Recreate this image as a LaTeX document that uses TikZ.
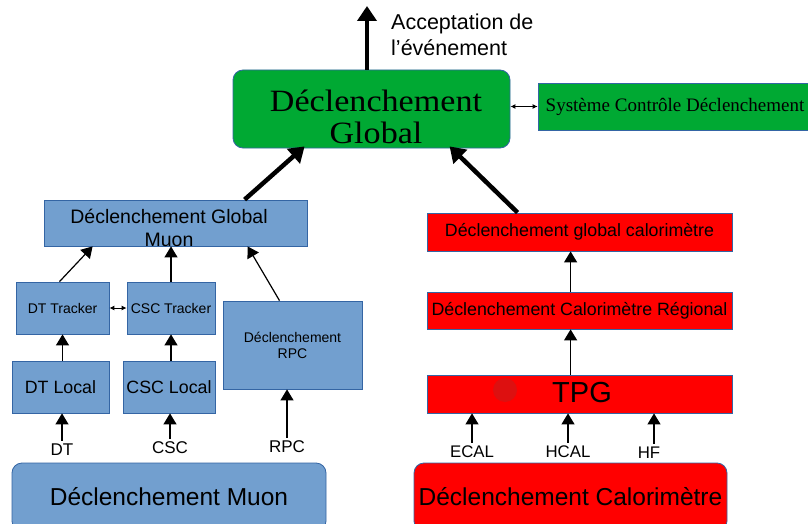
\documentclass[tikz,border=0pt]{standalone}
\usepackage{fontspec}
\setmainfont{Liberation Sans}
\newfontfamily\serifg[FakeStretch=1.1]{Liberation Serif}
\newfontfamily\serifs{Liberation Serif}
\usetikzlibrary{arrows.meta,calc}
\definecolor{bfill}{HTML}{729FCF}
\definecolor{bline}{HTML}{3465A4}
\definecolor{gfill}{HTML}{00A933}
\definecolor{rfill}{HTML}{FF0000}
\definecolor{blob}{HTML}{DD1010}
\newcommand{\fs}[2]{\fontsize{#1}{#2}\selectfont}
\tikzset{
  box/.style={draw=bline, line width=0.8pt, inner sep=0pt, align=center, text=black},
  bluebox/.style={box, fill=bfill},
  redbox/.style={box, fill=rfill},
  greenbox/.style={box, fill=gfill},
  txt/.style={inner sep=0pt, align=center, text=black},
  lab/.style={inner sep=3pt, text=black},
  thin/.style={line width=1.2pt, -{Triangle[width=13pt,length=11pt]}},
  thick/.style={line width=4.5pt, -{Triangle[width=19pt,length=15pt]}},
  dbl/.style={line width=0.9pt, {Latex[length=5pt,width=5pt]}-{Latex[length=5pt,width=5pt]}}
}
\begin{document}
\begin{tikzpicture}[x=1pt,y=-1pt]
\clip (0,0) rectangle (808,524);
\fill[white] (0,0) rectangle (808,524);
% top
\node[greenbox, rounded corners=10pt, minimum width=277pt, minimum height=78pt] (glob) at (371.5,109) {};
\node[txt, font=\serifg\fs{31}{32}] (globt) at (376,117) {Déclenchement\\Global};
\node[greenbox, minimum width=274pt, minimum height=47pt, font=\serifs\fs{19}{22}] (sys) at (675,106.5) {Système Contrôle Déclenchement};
\coordinate (acc) at (367,6);
\node[txt, anchor=west, align=left, font=\fs{21.5}{26}] (acct) at (391,35) {Acceptation de\\l’événement};
% muon side
\node[bluebox, minimum width=263pt, minimum height=46pt] (gm) at (175.5,223) {};
\node[txt, font=\fs{19.5}{23}] (gmt) at (169,228) {Déclenchement Global\\Muon};
\node[bluebox, minimum width=93pt, minimum height=52pt, font=\fs{14}{16}] (dtt) at (62.5,308) {DT Tracker};
\node[bluebox, minimum width=88pt, minimum height=52pt, font=\fs{14}{16}] (csct) at (171,308) {CSC Tracker};
\node[bluebox, minimum width=139pt, minimum height=88pt, font=\fs{14}{16}] (rpc) at (292.5,345) {Déclenchement\\RPC};
\node[bluebox, minimum width=97pt, minimum height=52pt, font=\fs{17.8}{20}] (dtl) at (60.5,387) {\raisebox{-3pt}{DT Local}};
\node[bluebox, minimum width=92pt, minimum height=52pt, font=\fs{17.8}{20}] (cscl) at (169,387) {CSC Local};
\node[bluebox, rounded corners=10pt, minimum width=314pt, minimum height=68pt, font=\fs{24.5}{28}] (muon) at (169,497) {\raisebox{2pt}{Déclenchement Muon}};
\node[lab, font=\fs{17}{20}] (ldt) at (62,450) {DT};
\node[lab, font=\fs{17}{20}] (lcsc) at (170,448) {CSC};
\node[lab, font=\fs{17}{20}] (lrpc) at (287,447) {RPC};
% calo side
\node[redbox, minimum width=305pt, minimum height=38pt, font=\fs{17.8}{20}] (glc) at (579.5,232) {Déclenchement global calorimètre};
\node[redbox, minimum width=305pt, minimum height=37pt, font=\fs{17.8}{20}] (reg) at (579.5,310.5) {Déclenchement Calorimètre Régional};
\node[redbox, minimum width=305pt, minimum height=38pt] (tpg) at (579.5,394) {};
\fill[blob] (505,390) circle[radius=12pt];
\node[txt, font=\fs{29}{32}] (tpgt) at (582,393) {TPG};
\node[redbox, rounded corners=10pt, minimum width=313pt, minimum height=68pt, font=\fs{24.5}{28}] (calo) at (570.5,497) {\raisebox{2pt}{Déclenchement Calorimètre}};
\node[lab, font=\fs{16.8}{20}] (lecal) at (472,452) {ECAL};
\node[lab, font=\fs{16.8}{20}] (lhcal) at (568,452) {HCAL};
\node[lab, font=\fs{16.8}{20}] (lhf) at (649,453) {HF};
% connectors
\draw[thick] (glob.north -| acc) -- (acc);
\draw[thick] ($(gm.north west)+(201,0)$) -- ($(glob.south west)+(72,-2)$);
\draw[thick] ($(glc.north west)+(91,0)$) -- ($(glob.south west)+(217,-2)$);
\draw[dbl] (glob.east |- sys) -- (sys.west);
\draw[thin] ($(dtt.north)+(-3,0)$) -- ($(gm.south west)+(49,0)$);
\draw[thin] (csct.north) -- (csct.north |- gm.south);
\draw[thin] ($(rpc.north)+(-13,0)$) -- ($(gm.south west)+(204,0)$);
\draw[dbl] (dtt.east) -- (csct.west);
\draw[thin] (dtl.north -| dtt) -- (dtt.south);
\draw[thin] (cscl.north -| csct) -- (csct.south);
\draw[thin] (ldt.north) -- (ldt.north |- dtl.south);
\draw[thin] (lcsc.north) -- (lcsc.north |- cscl.south);
\draw[thin] (lrpc.north) -- (lrpc.north |- rpc.south);
\draw[thin] ($(reg.north west)+(144,0)$) -- ($(glc.south west)+(144,0)$);
\draw[thin] ($(tpg.north west)+(144,0)$) -- ($(reg.south west)+(144,0)$);
\draw[thin] (lecal.north) -- (lecal.north |- tpg.south);
\draw[thin] (lhcal.north) -- (lhcal.north |- tpg.south);
\draw[thin] ($(lhf.north)+(5,0)$) -- ($(lhf.north |- tpg.south)+(5,0)$);
\end{tikzpicture}
\end{document}
